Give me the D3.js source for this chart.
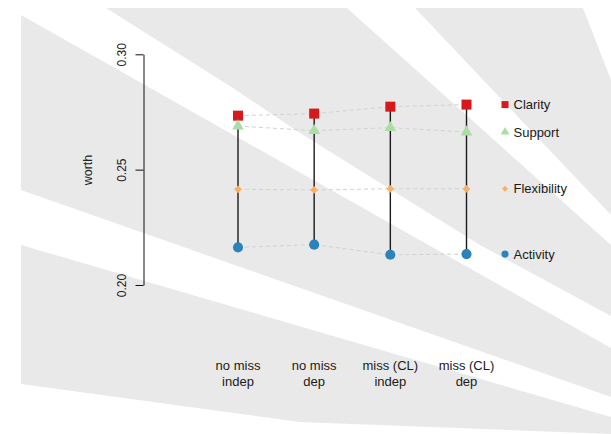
<!DOCTYPE html>
<html>
<head>
<meta charset="utf-8">
<script src="https://cdn.jsdelivr.net/npm/d3@7"></script>
<style>
  html, body { margin: 0; padding: 0; background: #fff; }
  svg { display: block; font-family: "Liberation Sans", Arial, Helvetica, sans-serif; }
</style>
</head>
<body>
<svg id="chart" width="611" height="434"></svg>
<script>
// column labels (two lines each)
const categories = [["no miss", "indep"], ["no miss", "dep"], ["miss (CL)", "indep"], ["miss (CL)", "dep"]];
const seriesNames = ["Clarity", "Support", "Flexibility", "Activity"];
const clarity     = [0.2734, 0.2743, 0.2773, 0.2782];
const support     = [0.2689, 0.2669, 0.2682, 0.2663];
const flexibility = [0.2415, 0.2412, 0.2417, 0.2417];
const activity    = [0.2163, 0.2175, 0.2131, 0.2134];
const yTicks = [0.20, 0.25, 0.30];

const seriesValues = [clarity, support, flexibility, activity];
const COLORS = ["#d7191c", "#abdda4", "#fdae61", "#2b83ba"];

const svg = d3.select("#chart");

// grey backdrop with white diagonal bands
const bg = svg.append("g");
bg.append("rect").attr("x", 21).attr("y", 8).attr("width", 590).attr("height", 426).attr("fill", "#e9e9e9");
const bands = [
  [[21, 8], [106, 8], [233, 88], [300, 133], [480, 245], [611, 316], [611, 348], [21, 15]],
  [[21, 190], [611, 397], [611, 417], [21, 245]],
  [[347, 8], [415, 8], [611, 215], [611, 245]],
  [[583, 8], [611, 8], [611, 80]],
  [[21, 384], [300, 422], [611, 434], [21, 434]]
];
bg.selectAll("polygon").data(bands).join("polygon")
  .attr("points", d => d.map(p => p.join(",")).join(" "))
  .attr("fill", "#fff");

const x = d3.scalePoint().domain(d3.range(categories.length)).range([238, 466.5]);
const y = d3.scaleLinear().domain([0.20, 0.30]).range([285, 54.3]);

// y axis
const yAxis = svg.append("g")
  .attr("transform", "translate(143.5,0)")
  .call(d3.axisLeft(y).tickValues(yTicks).tickSize(8).tickSizeOuter(0).tickFormat(d3.format(".2f")));
yAxis.select(".domain").attr("stroke", "#111");
yAxis.selectAll(".tick line").attr("stroke", "#111");
yAxis.selectAll(".tick text")
  .attr("x", 0).attr("dy", 0)
  .attr("transform", "translate(-18,0) rotate(-90)")
  .attr("text-anchor", "middle")
  .attr("font-size", 12)
  .attr("fill", "#222");

svg.append("text")
  .attr("transform", "translate(92,170) rotate(-90)")
  .attr("text-anchor", "middle")
  .attr("font-size", 12.5)
  .attr("fill", "#222")
  .text("worth");

// dashed connectors per series
const line = d3.line().x((d, i) => x(i)).y(d => y(d));
svg.append("g").selectAll("path").data(seriesValues).join("path")
  .attr("d", d => line(d))
  .attr("fill", "none")
  .attr("stroke", "#d2d2d2")
  .attr("stroke-width", 1)
  .attr("stroke-dasharray", "4,3");

// vertical stems
const cols = categories.map((c, i) => seriesValues.map(s => s[i]));
svg.append("g").selectAll("line").data(cols).join("line")
  .attr("x1", (d, i) => x(i)).attr("x2", (d, i) => x(i))
  .attr("y1", d => y(d3.max(d))).attr("y2", d => y(d3.min(d)))
  .attr("stroke", "#1a1a1a").attr("stroke-width", 1.4);

// marker shapes per series: [symbol, size, rotation]
const shapes = [
  [d3.symbolSquare, 100, 0],
  [d3.symbolTriangle, 58, 0],
  [d3.symbolSquare, 30, 45],
  [d3.symbolCircle, 80, 0]
];
const legendShapes = [
  [d3.symbolSquare, 49, 0],
  [d3.symbolTriangle, 32, 0],
  [d3.symbolSquare, 18, 45],
  [d3.symbolCircle, 40, 0]
];

seriesValues.forEach((vals, si) => {
  const [sym, size, rot] = shapes[si];
  svg.append("g").selectAll("path").data(vals).join("path")
    .attr("d", d3.symbol().type(sym).size(size)())
    .attr("transform", (d, i) => `translate(${x(i)},${y(d)}) rotate(${rot})`)
    .attr("fill", COLORS[si]);
});

// legend at the right, aligned with last column values
const lastIdx = categories.length - 1;
const legend = svg.append("g").selectAll("g").data(seriesNames).join("g")
  .attr("transform", (d, i) => `translate(505,${y(seriesValues[i][lastIdx])})`);
legend.append("path")
  .attr("d", (d, i) => d3.symbol().type(legendShapes[i][0]).size(legendShapes[i][1])())
  .attr("transform", (d, i) => `rotate(${legendShapes[i][2]})`)
  .attr("fill", (d, i) => COLORS[i]);
legend.append("text")
  .attr("x", 8.5).attr("dy", "0.35em")
  .attr("font-size", 13)
  .attr("fill", "#1a1a1a")
  .text(d => d);

// x labels
const xl = svg.append("g").selectAll("text").data(categories).join("text")
  .attr("text-anchor", "middle")
  .attr("font-size", 13)
  .attr("fill", "#1a1a1a");
xl.selectAll("tspan").data((d, i) => d.map(t => ({ t, i }))).join("tspan")
  .attr("x", d => x(d.i))
  .attr("y", (d, j) => 370 + j * 16)
  .text(d => d.t);
</script>
</body>
</html>
